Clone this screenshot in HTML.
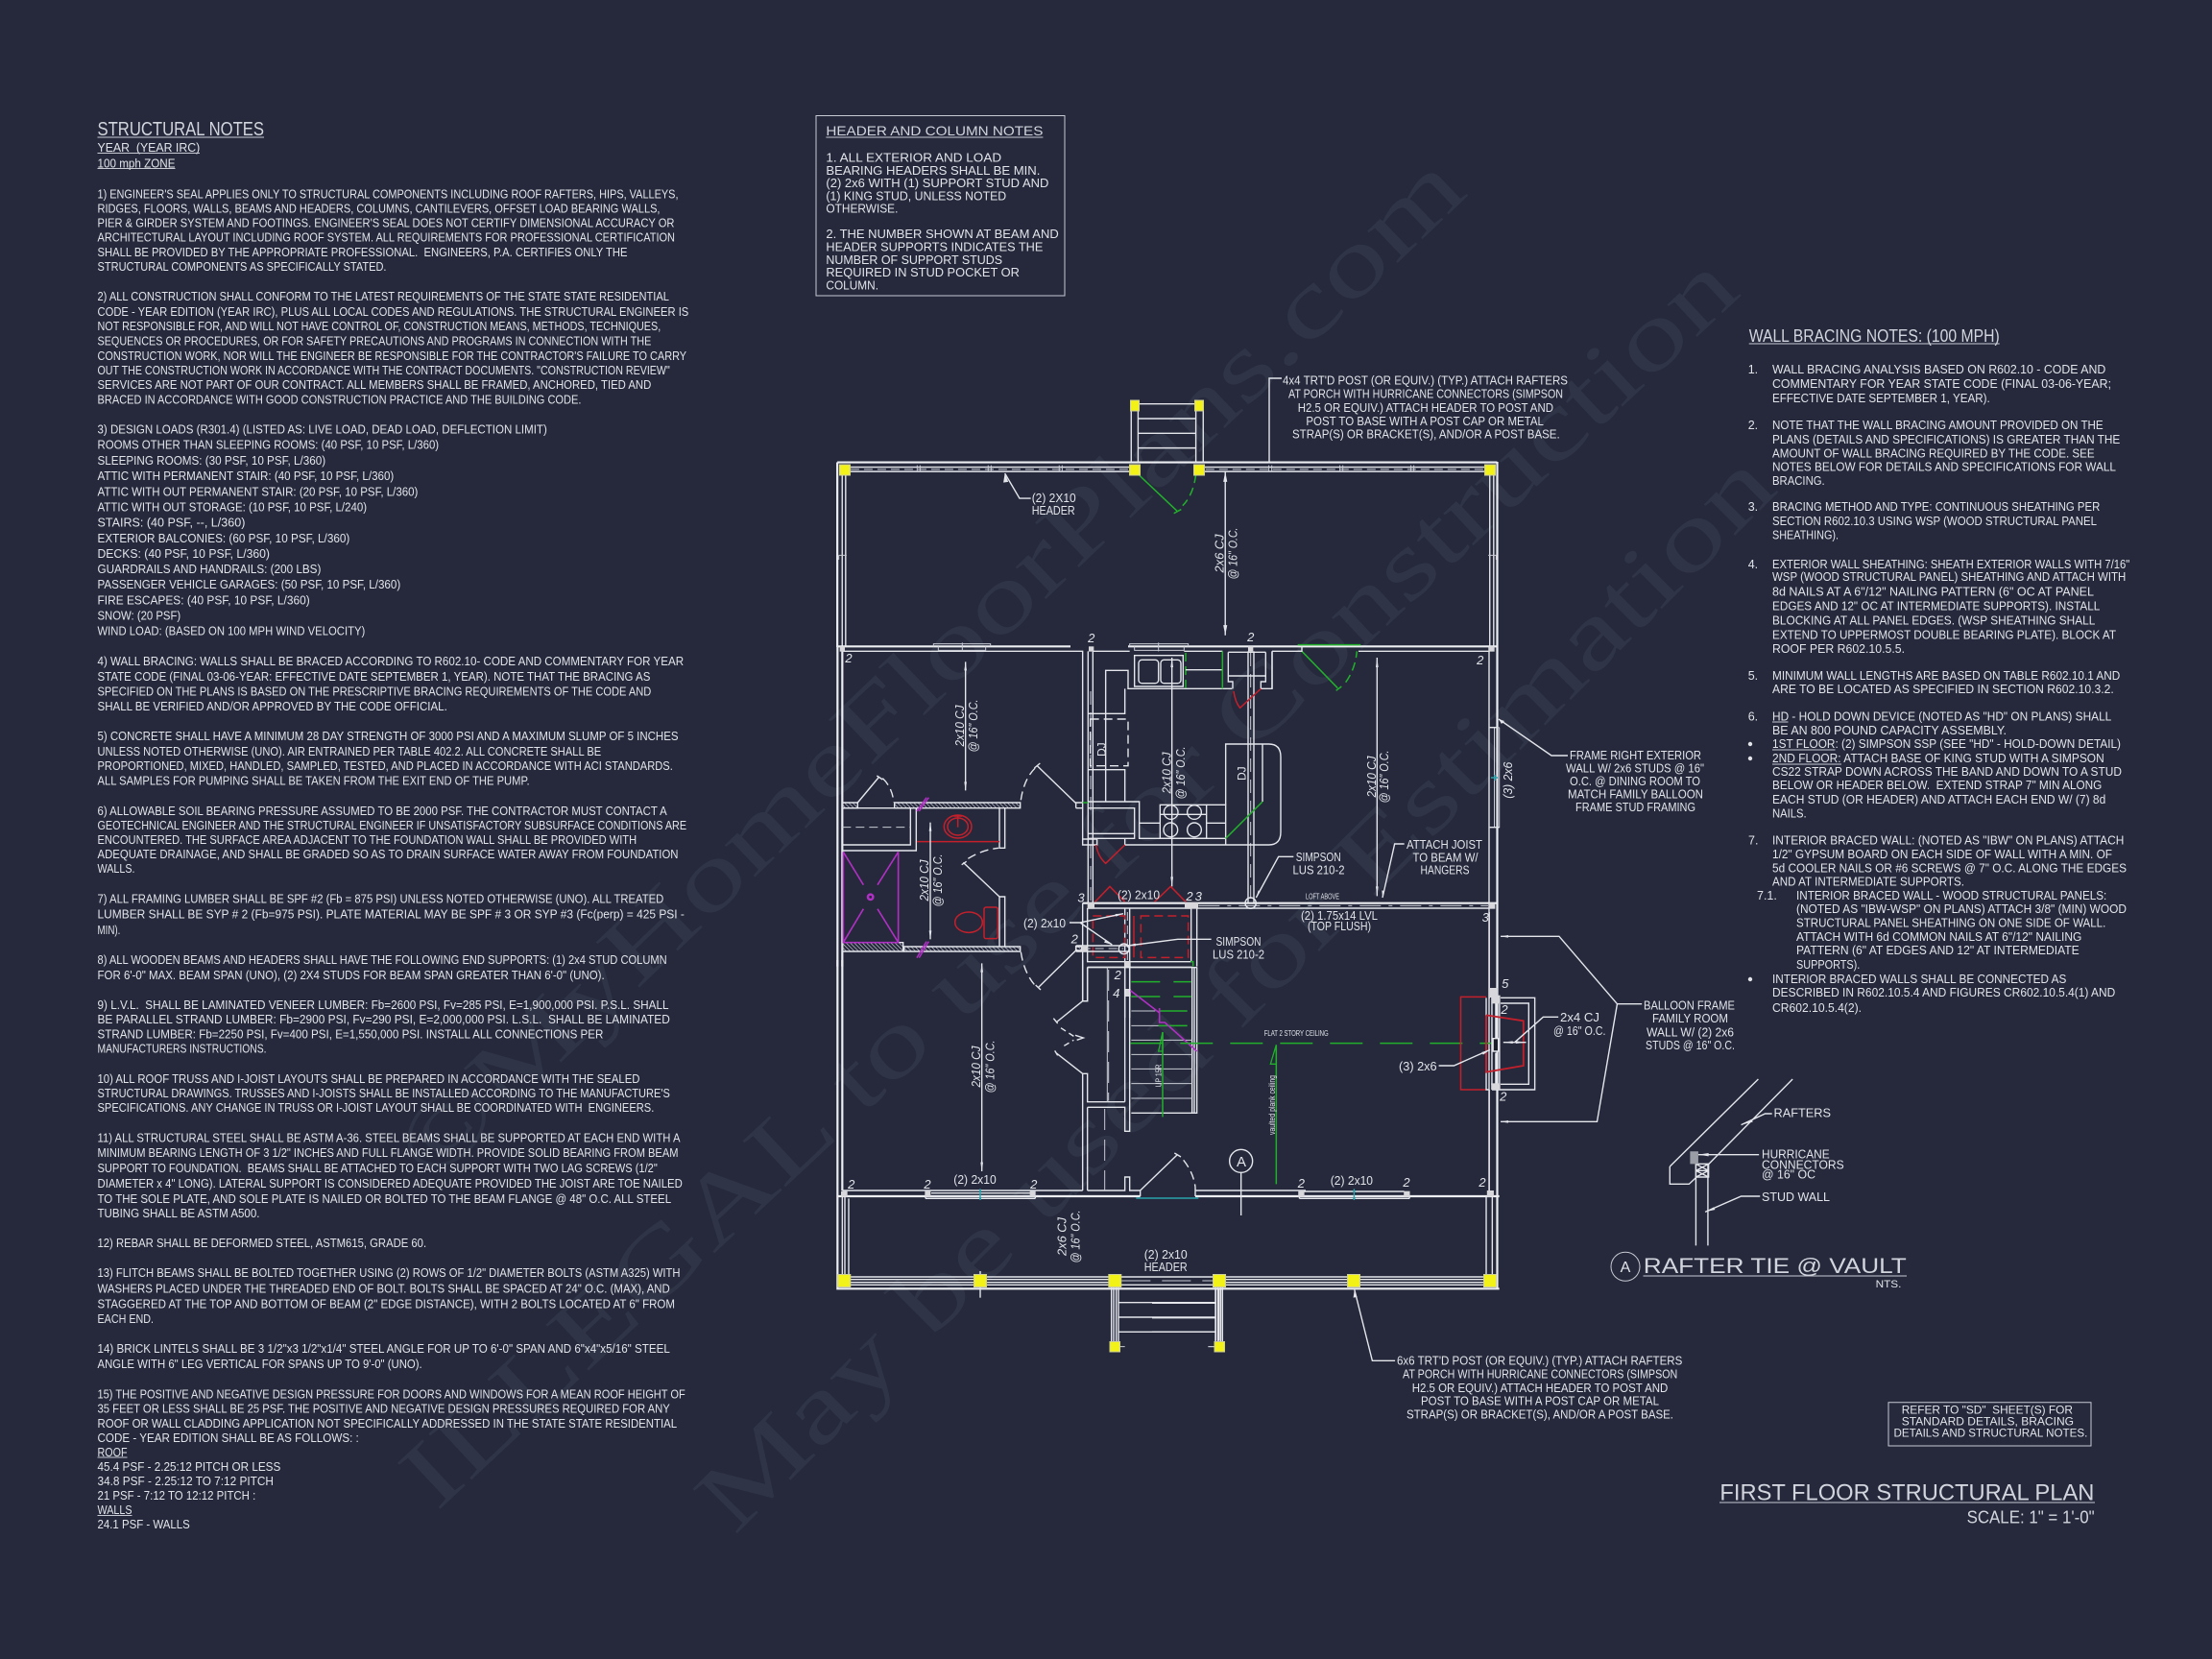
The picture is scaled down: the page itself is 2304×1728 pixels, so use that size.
<!DOCTYPE html>
<html><head><meta charset="utf-8"><title>First Floor Structural Plan</title>
<style>
html,body{margin:0;padding:0;background:#25293b}
svg{display:block}
text{font-family:"Liberation Sans",sans-serif;fill:#e2e4ea;font-size:12.5px;white-space:pre}
.wm{font-family:"Liberation Serif",serif;font-size:100px;fill:#2f3446}
.d{text-anchor:middle;font-size:13px;font-style:italic}
.s{font-size:13px}
.r{font-style:italic;font-size:13px;text-anchor:middle}
.big{fill:#d2d5dd}
line,path,polyline,rect,circle,ellipse,polygon{vector-effect:non-scaling-stroke}
.g path,.g line,.g rect,.g circle,.g ellipse,.g polyline{fill:none;stroke:#e4e6ec;stroke-width:1.4}
.g .k{stroke-width:2.2;stroke:#eceef2}
.g .t{stroke-width:1;stroke:#c8cad4}
.g .dd{stroke-dasharray:9 5}
.g .red{stroke:#c4202c;stroke-width:1.5}
.g .grn{stroke:#22b02c;stroke-width:1.5}
.g .mag{stroke:#b030c4;stroke-width:1.5}
.g .teal{stroke:#2aa4ac;stroke-width:1.4}
.g polygon{fill:#e4e6ec;stroke:none}
.g polygon.gr{fill:none;stroke:#22b02c;stroke-width:1.3}
.g .n{fill:#d8d8dc;stroke:none}
.y{fill:#f2f218;stroke:#cfcf9a;stroke-width:1}
</style></head><body>
<svg xmlns="http://www.w3.org/2000/svg" width="2304" height="1728" viewBox="0 0 2304 1728">
<defs><pattern id="h" patternUnits="userSpaceOnUse" width="9" height="9" patternTransform="rotate(-45)"><line x1="0" y1="0" x2="0" y2="9" stroke="#e4e6ec" stroke-width="3.4" style="vector-effect:none"/></pattern></defs>
<rect width="2304" height="1728" fill="#25293b"/>

<!-- watermarks -->
<text class="wm" transform="translate(450 1235) rotate(-43.7)" textLength="1495" lengthAdjust="spacingAndGlyphs">©MyHomeFloorPlans.com</text>
<text class="wm" transform="translate(455 1575) rotate(-43)" textLength="1860" lengthAdjust="spacingAndGlyphs">ILLEGAL to use for Construction</text>
<text class="wm" transform="translate(765 1600) rotate(-45)" textLength="1540" lengthAdjust="spacingAndGlyphs">May be used for Estimation</text>

<!-- STRUCTURAL NOTES -->
<g>
<text class="big" x="101.5" y="141" style="font-size:20px" textLength="173.5" lengthAdjust="spacingAndGlyphs">STRUCTURAL NOTES</text>
<text x="101.5" y="158.2" textLength="106.7" lengthAdjust="spacingAndGlyphs">YEAR  (YEAR IRC)</text>
<text x="101.5" y="174.3" textLength="81" lengthAdjust="spacingAndGlyphs">100 mph ZONE</text>
<text x="101.5" y="206.3" textLength="605" lengthAdjust="spacingAndGlyphs">1) ENGINEER'S SEAL APPLIES ONLY TO STRUCTURAL COMPONENTS INCLUDING ROOF RAFTERS, HIPS, VALLEYS,</text>
<text x="101.5" y="221.3" textLength="586" lengthAdjust="spacingAndGlyphs">RIDGES, FLOORS, WALLS, BEAMS AND HEADERS, COLUMNS, CANTILEVERS, OFFSET LOAD BEARING WALLS,</text>
<text x="101.5" y="236.6" textLength="601" lengthAdjust="spacingAndGlyphs">PIER &amp; GIRDER SYSTEM AND FOOTINGS. ENGINEER'S SEAL DOES NOT CERTIFY DIMENSIONAL ACCURACY OR</text>
<text x="101.5" y="251.6" textLength="601.5" lengthAdjust="spacingAndGlyphs">ARCHITECTURAL LAYOUT INCLUDING ROOF SYSTEM. ALL REQUIREMENTS FOR PROFESSIONAL CERTIFICATION</text>
<text x="101.5" y="267" textLength="552" lengthAdjust="spacingAndGlyphs">SHALL BE PROVIDED BY THE APPROPRIATE PROFESSIONAL.  ENGINEERS, P.A. CERTIFIES ONLY THE</text>
<text x="101.5" y="282" textLength="301" lengthAdjust="spacingAndGlyphs">STRUCTURAL COMPONENTS AS SPECIFICALLY STATED.</text>
<text x="101.5" y="313.1" textLength="595.4" lengthAdjust="spacingAndGlyphs">2) ALL CONSTRUCTION SHALL CONFORM TO THE LATEST REQUIREMENTS OF THE STATE STATE RESIDENTIAL</text>
<text x="101.5" y="329.1" textLength="615.8" lengthAdjust="spacingAndGlyphs">CODE - YEAR EDITION (YEAR IRC), PLUS ALL LOCAL CODES AND REGULATIONS. THE STRUCTURAL ENGINEER IS</text>
<text x="101.5" y="344.1" textLength="586.7" lengthAdjust="spacingAndGlyphs">NOT RESPONSIBLE FOR, AND WILL NOT HAVE CONTROL OF, CONSTRUCTION MEANS, METHODS, TECHNIQUES,</text>
<text x="101.5" y="359.5" textLength="576.8" lengthAdjust="spacingAndGlyphs">SEQUENCES OR PROCEDURES, OR FOR SAFETY PRECAUTIONS AND PROGRAMS IN CONNECTION WITH THE</text>
<text x="101.5" y="374.9" textLength="613.6" lengthAdjust="spacingAndGlyphs">CONSTRUCTION WORK, NOR WILL THE ENGINEER BE RESPONSIBLE FOR THE CONTRACTOR'S FAILURE TO CARRY</text>
<text x="101.5" y="390.2" textLength="596.3" lengthAdjust="spacingAndGlyphs">OUT THE CONSTRUCTION WORK IN ACCORDANCE WITH THE CONTRACT DOCUMENTS. "CONSTRUCTION REVIEW"</text>
<text x="101.5" y="405.2" textLength="576.8" lengthAdjust="spacingAndGlyphs">SERVICES ARE NOT PART OF OUR CONTRACT. ALL MEMBERS SHALL BE FRAMED, ANCHORED, TIED AND</text>
<text x="101.5" y="420.6" textLength="503.9" lengthAdjust="spacingAndGlyphs">BRACED IN ACCORDANCE WITH GOOD CONSTRUCTION PRACTICE AND THE BUILDING CODE.</text>
<text x="101.5" y="451.6" textLength="468.3" lengthAdjust="spacingAndGlyphs">3) DESIGN LOADS (R301.4) (LISTED AS: LIVE LOAD, DEAD LOAD, DEFLECTION LIMIT)</text>
<text x="101.5" y="467.7" textLength="355.6" lengthAdjust="spacingAndGlyphs">ROOMS OTHER THAN SLEEPING ROOMS: (40 PSF, 10 PSF, L/360)</text>
<text x="101.5" y="483.8" textLength="237.6" lengthAdjust="spacingAndGlyphs">SLEEPING ROOMS: (30 PSF, 10 PSF, L/360)</text>
<text x="101.5" y="499.9" textLength="308.8" lengthAdjust="spacingAndGlyphs">ATTIC WITH PERMANENT STAIR: (40 PSF, 10 PSF, L/360)</text>
<text x="101.5" y="516.3" textLength="333.9" lengthAdjust="spacingAndGlyphs">ATTIC WITH OUT PERMANENT STAIR: (20 PSF, 10 PSF, L/360)</text>
<text x="101.5" y="532.4" textLength="280.6" lengthAdjust="spacingAndGlyphs">ATTIC WITH OUT STORAGE: (10 PSF, 10 PSF, L/240)</text>
<text x="101.5" y="548.4" textLength="153.9" lengthAdjust="spacingAndGlyphs">STAIRS: (40 PSF, --, L/360)</text>
<text x="101.5" y="564.9" textLength="262.8" lengthAdjust="spacingAndGlyphs">EXTERIOR BALCONIES: (60 PSF, 10 PSF, L/360)</text>
<text x="101.5" y="581" textLength="179.5" lengthAdjust="spacingAndGlyphs">DECKS: (40 PSF, 10 PSF, L/360)</text>
<text x="101.5" y="597" textLength="232.9" lengthAdjust="spacingAndGlyphs">GUARDRAILS AND HANDRAILS: (200 LBS)</text>
<text x="101.5" y="613.1" textLength="315.7" lengthAdjust="spacingAndGlyphs">PASSENGER VEHICLE GARAGES: (50 PSF, 10 PSF, L/360)</text>
<text x="101.5" y="629.5" textLength="221.2" lengthAdjust="spacingAndGlyphs">FIRE ESCAPES: (40 PSF, 10 PSF, L/360)</text>
<text x="101.5" y="645.6" textLength="86.7" lengthAdjust="spacingAndGlyphs">SNOW: (20 PSF)</text>
<text x="101.5" y="661.6" textLength="278.8" lengthAdjust="spacingAndGlyphs">WIND LOAD: (BASED ON 100 MPH WIND VELOCITY)</text>
<text x="101.5" y="693.2" textLength="610.6" lengthAdjust="spacingAndGlyphs">4) WALL BRACING: WALLS SHALL BE BRACED ACCORDING TO R602.10- CODE AND COMMENTARY FOR YEAR</text>
<text x="101.5" y="709.2" textLength="575.9" lengthAdjust="spacingAndGlyphs">STATE CODE (FINAL 03-06-YEAR: EFFECTIVE DATE SEPTEMBER 1, YEAR). NOTE THAT THE BRACING AS</text>
<text x="101.5" y="724.5" textLength="576.8" lengthAdjust="spacingAndGlyphs">SPECIFIED ON THE PLANS IS BASED ON THE PRESCRIPTIVE BRACING REQUIREMENTS OF THE CODE AND</text>
<text x="101.5" y="739.8" textLength="364.3" lengthAdjust="spacingAndGlyphs">SHALL BE VERIFIED AND/OR APPROVED BY THE CODE OFFICIAL.</text>
<text x="101.5" y="771.2" textLength="605" lengthAdjust="spacingAndGlyphs">5) CONCRETE SHALL HAVE A MINIMUM 28 DAY STRENGTH OF 3000 PSI AND A MAXIMUM SLUMP OF 5 INCHES</text>
<text x="101.5" y="787.2" textLength="524.7" lengthAdjust="spacingAndGlyphs">UNLESS NOTED OTHERWISE (UNO). AIR ENTRAINED PER TABLE 402.2. ALL CONCRETE SHALL BE</text>
<text x="101.5" y="802.2" textLength="599.3" lengthAdjust="spacingAndGlyphs">PROPORTIONED, MIXED, HANDLED, SAMPLED, TESTED, AND PLACED IN ACCORDANCE WITH ACI STANDARDS.</text>
<text x="101.5" y="817.5" textLength="450.1" lengthAdjust="spacingAndGlyphs">ALL SAMPLES FOR PUMPING SHALL BE TAKEN FROM THE EXIT END OF THE PUMP.</text>
<text x="101.5" y="848.8" textLength="593.2" lengthAdjust="spacingAndGlyphs">6) ALLOWABLE SOIL BEARING PRESSURE ASSUMED TO BE 2000 PSF. THE CONTRACTOR MUST CONTACT A</text>
<text x="101.5" y="863.8" textLength="613.6" lengthAdjust="spacingAndGlyphs">GEOTECHNICAL ENGINEER AND THE STRUCTURAL ENGINEER IF UNSATISFACTORY SUBSURFACE CONDITIONS ARE</text>
<text x="101.5" y="878.8" textLength="561.6" lengthAdjust="spacingAndGlyphs">ENCOUNTERED. THE SURFACE AREA ADJACENT TO THE FOUNDATION WALL SHALL BE PROVIDED WITH</text>
<text x="101.5" y="893.8" textLength="605" lengthAdjust="spacingAndGlyphs">ADEQUATE DRAINAGE, AND SHALL BE GRADED SO AS TO DRAIN SURFACE WATER AWAY FROM FOUNDATION</text>
<text x="101.5" y="909.2" textLength="39" lengthAdjust="spacingAndGlyphs">WALLS.</text>
<text x="101.5" y="940.5" textLength="589.8" lengthAdjust="spacingAndGlyphs">7) ALL FRAMING LUMBER SHALL BE SPF #2 (Fb = 875 PSI) UNLESS NOTED OTHERWISE (UNO). ALL TREATED</text>
<text x="101.5" y="956.5" textLength="611.4" lengthAdjust="spacingAndGlyphs">LUMBER SHALL BE SYP # 2 (Fb=975 PSI). PLATE MATERIAL MAY BE SPF # 3 OR SYP #3 (Fc(perp) = 425 PSI -</text>
<text x="101.5" y="972.8" textLength="23.9" lengthAdjust="spacingAndGlyphs">MIN).</text>
<text x="101.5" y="1003.8" textLength="593.2" lengthAdjust="spacingAndGlyphs">8) ALL WOODEN BEAMS AND HEADERS SHALL HAVE THE FOLLOWING END SUPPORTS: (1) 2x4 STUD COLUMN</text>
<text x="101.5" y="1019.8" textLength="528.2" lengthAdjust="spacingAndGlyphs">FOR 6'-0" MAX. BEAM SPAN (UNO), (2) 2X4 STUDS FOR BEAM SPAN GREATER THAN 6'-0" (UNO).</text>
<text x="101.5" y="1051.2" textLength="595" lengthAdjust="spacingAndGlyphs">9) L.V.L.  SHALL BE LAMINATED VENEER LUMBER: Fb=2600 PSI, Fv=285 PSI, E=1,900,000 PSI. P.S.L. SHALL</text>
<text x="101.5" y="1066.2" textLength="596.3" lengthAdjust="spacingAndGlyphs">BE PARALLEL STRAND LUMBER: Fb=2900 PSI, Fv=290 PSI, E=2,000,000 PSI. L.S.L.  SHALL BE LAMINATED</text>
<text x="101.5" y="1081.5" textLength="526.9" lengthAdjust="spacingAndGlyphs">STRAND LUMBER: Fb=2250 PSI, Fv=400 PSI, E=1,550,000 PSI. INSTALL ALL CONNECTIONS PER</text>
<text x="101.5" y="1096.5" textLength="176" lengthAdjust="spacingAndGlyphs">MANUFACTURERS INSTRUCTIONS.</text>
<text x="101.5" y="1127.8" textLength="565" lengthAdjust="spacingAndGlyphs">10) ALL ROOF TRUSS AND I-JOIST LAYOUTS SHALL BE PREPARED IN ACCORDANCE WITH THE SEALED</text>
<text x="101.5" y="1143.2" textLength="596.3" lengthAdjust="spacingAndGlyphs">STRUCTURAL DRAWINGS. TRUSSES AND I-JOISTS SHALL BE INSTALLED ACCORDING TO THE MANUFACTURE'S</text>
<text x="101.5" y="1158.2" textLength="579.8" lengthAdjust="spacingAndGlyphs">SPECIFICATIONS. ANY CHANGE IN TRUSS OR I-JOIST LAYOUT SHALL BE COORDINATED WITH  ENGINEERS.</text>
<text x="101.5" y="1189.5" textLength="607" lengthAdjust="spacingAndGlyphs">11) ALL STRUCTURAL STEEL SHALL BE ASTM A-36. STEEL BEAMS SHALL BE SUPPORTED AT EACH END WITH A</text>
<text x="101.5" y="1204.8" textLength="605" lengthAdjust="spacingAndGlyphs">MINIMUM BEARING LENGTH OF 3 1/2" INCHES AND FULL FLANGE WIDTH. PROVIDE SOLID BEARING FROM BEAM</text>
<text x="101.5" y="1221.2" textLength="583.3" lengthAdjust="spacingAndGlyphs">SUPPORT TO FOUNDATION.  BEAMS SHALL BE ATTACHED TO EACH SUPPORT WITH TWO LAG SCREWS (1/2"</text>
<text x="101.5" y="1237.2" textLength="609.3" lengthAdjust="spacingAndGlyphs">DIAMETER x 4" LONG). LATERAL SUPPORT IS CONSIDERED ADEQUATE PROVIDED THE JOIST ARE TOE NAILED</text>
<text x="101.5" y="1252.8" textLength="597.6" lengthAdjust="spacingAndGlyphs">TO THE SOLE PLATE, AND SOLE PLATE IS NAILED OR BOLTED TO THE BEAM FLANGE @ 48" O.C. ALL STEEL</text>
<text x="101.5" y="1267.8" textLength="169" lengthAdjust="spacingAndGlyphs">TUBING SHALL BE ASTM A500.</text>
<text x="101.5" y="1299.2" textLength="342.6" lengthAdjust="spacingAndGlyphs">12) REBAR SHALL BE DEFORMED STEEL, ASTM615, GRADE 60.</text>
<text x="101.5" y="1330.2" textLength="607" lengthAdjust="spacingAndGlyphs">13) FLITCH BEAMS SHALL BE BOLTED TOGETHER USING (2) ROWS OF 1/2" DIAMETER BOLTS (ASTM A325) WITH</text>
<text x="101.5" y="1346.5" textLength="596.3" lengthAdjust="spacingAndGlyphs">WASHERS PLACED UNDER THE THREADED END OF BOLT. BOLTS SHALL BE SPACED AT 24" O.C. (MAX), AND</text>
<text x="101.5" y="1362.5" textLength="601.5" lengthAdjust="spacingAndGlyphs">STAGGERED AT THE TOP AND BOTTOM OF BEAM (2" EDGE DISTANCE), WITH 2 BOLTS LOCATED AT 6" FROM</text>
<text x="101.5" y="1377.8" textLength="58.5" lengthAdjust="spacingAndGlyphs">EACH END.</text>
<text x="101.5" y="1409.2" textLength="596.3" lengthAdjust="spacingAndGlyphs">14) BRICK LINTELS SHALL BE 3 1/2"x3 1/2"x1/4" STEEL ANGLE FOR UP TO 6'-0" SPAN AND 6"x4"x5/16" STEEL</text>
<text x="101.5" y="1424.8" textLength="338.2" lengthAdjust="spacingAndGlyphs">ANGLE WITH 6" LEG VERTICAL FOR SPANS UP TO 9'-0" (UNO).</text>
<text x="101.5" y="1456.5" textLength="612.3" lengthAdjust="spacingAndGlyphs">15) THE POSITIVE AND NEGATIVE DESIGN PRESSURE FOR DOORS AND WINDOWS FOR A MEAN ROOF HEIGHT OF</text>
<text x="101.5" y="1471.5" textLength="596.3" lengthAdjust="spacingAndGlyphs">35 FEET OR LESS SHALL BE 25 PSF. THE POSITIVE AND NEGATIVE DESIGN PRESSURES REQUIRED FOR ANY</text>
<text x="101.5" y="1486.8" textLength="603.6" lengthAdjust="spacingAndGlyphs">ROOF OR WALL CLADDING APPLICATION NOT SPECIFICALLY ADDRESSED IN THE STATE STATE RESIDENTIAL</text>
<text x="101.5" y="1501.8" textLength="272.3" lengthAdjust="spacingAndGlyphs">CODE - YEAR EDITION SHALL BE AS FOLLOWS: :</text>
<text x="101.5" y="1516.8" textLength="31" lengthAdjust="spacingAndGlyphs">ROOF</text>
<text x="101.5" y="1531.8" textLength="190.8" lengthAdjust="spacingAndGlyphs">45.4 PSF - 2.25:12 PITCH OR LESS</text>
<text x="101.5" y="1546.8" textLength="183.4" lengthAdjust="spacingAndGlyphs">34.8 PSF - 2.25:12 TO 7:12 PITCH</text>
<text x="101.5" y="1561.8" textLength="164.8" lengthAdjust="spacingAndGlyphs">21 PSF - 7:12 TO 12:12 PITCH :</text>
<text x="101.5" y="1577.2" textLength="36" lengthAdjust="spacingAndGlyphs">WALLS</text>
<text x="101.5" y="1592.2" textLength="96.3" lengthAdjust="spacingAndGlyphs">24.1 PSF - WALLS</text>
</g>

<!-- HEADER NOTES -->
<g>
<text class="big" x="860.4" y="141" style="font-size:14px" textLength="226" lengthAdjust="spacingAndGlyphs">HEADER AND COLUMN NOTES</text>
<text x="860.4" y="168.4" textLength="182.7" lengthAdjust="spacingAndGlyphs">1. ALL EXTERIOR AND LOAD</text>
<text x="860.4" y="181.8" textLength="223" lengthAdjust="spacingAndGlyphs">BEARING HEADERS SHALL BE MIN.</text>
<text x="860.4" y="195.2" textLength="232" lengthAdjust="spacingAndGlyphs">(2) 2x6 WITH (1) SUPPORT STUD AND</text>
<text x="860.4" y="208.6" textLength="187.8" lengthAdjust="spacingAndGlyphs">(1) KING STUD, UNLESS NOTED</text>
<text x="860.4" y="221.6" textLength="75" lengthAdjust="spacingAndGlyphs">OTHERWISE.</text>
<text x="860.4" y="248" textLength="242.3" lengthAdjust="spacingAndGlyphs">2. THE NUMBER SHOWN AT BEAM AND</text>
<text x="860.4" y="261.4" textLength="226" lengthAdjust="spacingAndGlyphs">HEADER SUPPORTS INDICATES THE</text>
<text x="860.4" y="274.8" textLength="183.7" lengthAdjust="spacingAndGlyphs">NUMBER OF SUPPORT STUDS</text>
<text x="860.4" y="288.2" textLength="201.5" lengthAdjust="spacingAndGlyphs">REQUIRED IN STUD POCKET OR</text>
<text x="860.4" y="301.6" textLength="54.6" lengthAdjust="spacingAndGlyphs">COLUMN.</text>
</g>

<!-- WALL BRACING NOTES -->
<g>
<text class="big" x="1821.7" y="356" style="font-size:18px" textLength="261" lengthAdjust="spacingAndGlyphs">WALL BRACING NOTES: (100 MPH)</text>
<g class="nums">
<text x="1820.7" y="389.1">1.</text><text x="1820.7" y="447.1">2.</text><text x="1820.7" y="532.1">3.</text><text x="1820.7" y="591.8">4.</text><text x="1820.7" y="708.1">5.</text><text x="1820.7" y="750.5">6.</text><text x="1821" y="879.5">7.</text><text x="1830" y="936.8">7.1.</text>
</g>
<text x="1846" y="389.1" textLength="347.3" lengthAdjust="spacingAndGlyphs">WALL BRACING ANALYSIS BASED ON R602.10 - CODE AND</text>
<text x="1846" y="403.8" textLength="353" lengthAdjust="spacingAndGlyphs">COMMENTARY FOR YEAR STATE CODE (FINAL 03-06-YEAR;</text>
<text x="1846" y="418.8" textLength="226.7" lengthAdjust="spacingAndGlyphs">EFFECTIVE DATE SEPTEMBER 1, YEAR).</text>
<text x="1846" y="447.1" textLength="344.7" lengthAdjust="spacingAndGlyphs">NOTE THAT THE WALL BRACING AMOUNT PROVIDED ON THE</text>
<text x="1846" y="461.8" textLength="362.3" lengthAdjust="spacingAndGlyphs">PLANS (DETAILS AND SPECIFICATIONS) IS GREATER THAN THE</text>
<text x="1846" y="476.5" textLength="335.7" lengthAdjust="spacingAndGlyphs">AMOUNT OF WALL BRACING REQUIRED BY THE CODE. SEE</text>
<text x="1846" y="490.5" textLength="358" lengthAdjust="spacingAndGlyphs">NOTES BELOW FOR DETAILS AND SPECIFICATIONS FOR WALL</text>
<text x="1846" y="504.8" textLength="54.7" lengthAdjust="spacingAndGlyphs">BRACING.</text>
<text x="1846" y="532.1" textLength="341.3" lengthAdjust="spacingAndGlyphs">BRACING METHOD AND TYPE: CONTINUOUS SHEATHING PER</text>
<text x="1846" y="546.8" textLength="338" lengthAdjust="spacingAndGlyphs">SECTION R602.10.3 USING WSP (WOOD STRUCTURAL PANEL</text>
<text x="1846" y="561.5" textLength="69" lengthAdjust="spacingAndGlyphs">SHEATHING).</text>
<text x="1846" y="591.8" textLength="372.3" lengthAdjust="spacingAndGlyphs">EXTERIOR WALL SHEATHING: SHEATH EXTERIOR WALLS WITH 7/16"</text>
<text x="1846" y="605.1" textLength="368.3" lengthAdjust="spacingAndGlyphs">WSP (WOOD STRUCTURAL PANEL) SHEATHING AND ATTACH WITH</text>
<text x="1846" y="620.5" textLength="335" lengthAdjust="spacingAndGlyphs">8d NAILS AT A 6"/12" NAILING PATTERN (6" OC AT PANEL</text>
<text x="1846" y="635.5" textLength="341.3" lengthAdjust="spacingAndGlyphs">EDGES AND 12" OC AT INTERMEDIATE SUPPORTS). INSTALL</text>
<text x="1846" y="650.5" textLength="336.3" lengthAdjust="spacingAndGlyphs">BLOCKING AT ALL PANEL EDGES. (WSP SHEATHING SHALL</text>
<text x="1846" y="665.5" textLength="358" lengthAdjust="spacingAndGlyphs">EXTEND TO UPPERMOST DOUBLE BEARING PLATE). BLOCK AT</text>
<text x="1846" y="680.1" textLength="138" lengthAdjust="spacingAndGlyphs">ROOF PER R602.10.5.5.</text>
<text x="1846" y="708.1" textLength="362.3" lengthAdjust="spacingAndGlyphs">MINIMUM WALL LENGTHS ARE BASED ON TABLE R602.10.1 AND</text>
<text x="1846" y="722.1" textLength="355.7" lengthAdjust="spacingAndGlyphs">ARE TO BE LOCATED AS SPECIFIED IN SECTION R602.10.3.2.</text>
<text x="1846" y="750.5" textLength="353.3" lengthAdjust="spacingAndGlyphs">HD - HOLD DOWN DEVICE (NOTED AS "HD" ON PLANS) SHALL</text>
<text x="1846" y="764.8" textLength="244" lengthAdjust="spacingAndGlyphs">BE AN 800 POUND CAPACITY ASSEMBLY.</text>
<text x="1846" y="779.1" textLength="363" lengthAdjust="spacingAndGlyphs">1ST FLOOR: (2) SIMPSON SSP (SEE "HD" - HOLD-DOWN DETAIL)</text>
<text x="1846" y="794.1" textLength="345.7" lengthAdjust="spacingAndGlyphs">2ND FLOOR: ATTACH BASE OF KING STUD WITH A SIMPSON</text>
<text x="1846" y="808.1" textLength="364" lengthAdjust="spacingAndGlyphs">CS22 STRAP DOWN ACROSS THE BAND AND DOWN TO A STUD</text>
<text x="1846" y="822.1" textLength="343.3" lengthAdjust="spacingAndGlyphs">BELOW OR HEADER BELOW.  EXTEND STRAP 7" MIN ALONG</text>
<text x="1846" y="837.1" textLength="347.3" lengthAdjust="spacingAndGlyphs">EACH STUD (OR HEADER) AND ATTACH EACH END W/ (7) 8d</text>
<text x="1846" y="851.5" textLength="35.7" lengthAdjust="spacingAndGlyphs">NAILS.</text>
<text x="1846" y="879.5" textLength="366.3" lengthAdjust="spacingAndGlyphs">INTERIOR BRACED WALL: (NOTED AS "IBW" ON PLANS) ATTACH</text>
<text x="1846" y="894.1" textLength="354" lengthAdjust="spacingAndGlyphs">1/2" GYPSUM BOARD ON EACH SIDE OF WALL WITH A MIN. OF</text>
<text x="1846" y="908.5" textLength="369" lengthAdjust="spacingAndGlyphs">5d COOLER NAILS OR #6 SCREWS @ 7" O.C. ALONG THE EDGES</text>
<text x="1846" y="922.5" textLength="200" lengthAdjust="spacingAndGlyphs">AND AT INTERMEDIATE SUPPORTS.</text>
<text x="1871" y="936.8" textLength="323.3" lengthAdjust="spacingAndGlyphs">INTERIOR BRACED WALL - WOOD STRUCTURAL PANELS:</text>
<text x="1871" y="951.1" textLength="344" lengthAdjust="spacingAndGlyphs">(NOTED AS "IBW-WSP" ON PLANS) ATTACH 3/8" (MIN) WOOD</text>
<text x="1871" y="965.5" textLength="322.3" lengthAdjust="spacingAndGlyphs">STRUCTURAL PANEL SHEATHING ON ONE SIDE OF WALL.</text>
<text x="1871" y="979.8" textLength="297.3" lengthAdjust="spacingAndGlyphs">ATTACH WITH 6d COMMON NAILS AT 6"/12" NAILING</text>
<text x="1871" y="994.1" textLength="294.7" lengthAdjust="spacingAndGlyphs">PATTERN (6" AT EDGES AND 12" AT INTERMEDIATE</text>
<text x="1871" y="1009.1" textLength="66.3" lengthAdjust="spacingAndGlyphs">SUPPORTS).</text>
<text x="1846" y="1024.1" textLength="306.3" lengthAdjust="spacingAndGlyphs">INTERIOR BRACED WALLS SHALL BE CONNECTED AS</text>
<text x="1846" y="1038.1" textLength="357.3" lengthAdjust="spacingAndGlyphs">DESCRIBED IN R602.10.5.4 AND FIGURES CR602.10.5.4(1) AND</text>
<text x="1846" y="1053.8" textLength="93" lengthAdjust="spacingAndGlyphs">CR602.10.5.4(2).</text>
<circle cx="1823" cy="775" r="2.2" fill="#e2e4ea"/><circle cx="1823" cy="790" r="2.2" fill="#e2e4ea"/><circle cx="1823" cy="1020" r="2.2" fill="#e2e4ea"/>
</g>

<!-- absolute line work -->
<g class="g">
<path class="t" d="M101.5,143H275M101.5,159.5H208M101.5,175.5H182.5M101.5,1518H132.5M101.5,1578.5H137.5"/>
<rect x="850" y="120.5" width="259" height="187.5" class="t"/>
<path class="t" d="M860.4,143H1086.4M1821.7,358H2082.7M1846,752H1862.5M1846,781H1911.5M1846,796H1918"/>
<rect x="1967" y="1460.7" width="211" height="45.3" class="t"/>
<path class="t" d="M1711.5,1329H1986M1791,1565H2182"/>
<circle cx="1693" cy="1319.3" r="15" class="t"/>
<path d="M1322,480.8V394H1335"/>
<path class="k" d="M1559.5,481V1342"/>
<path d="M1551,673V1246"/>
<path class="t" d="M1561.7,757.7V861.7H1551M1561.7,757.7H1551M1556.5,757.7V861.7"/>
<path class="teal" d="M1553,810H1560M1557,807V813"/>
<path d="M1561,749L1616,787H1633"/>
<polygon points="1561,749 1567,751 1564,754"/>
</g>

<!-- zoom 4 group : top porch -->
<g class="g" transform="translate(840 100) scale(.5102 .3827)">
<path class="k" d="M63,997H1410"/>
<path class="k" d="M63,997V1500"/>
<path d="M73,1010V1497M80,1022V1497M1395,1022V1497M1403,1010V1497"/>
<path d="M73,1010H663M810,1010H1403M80,1022H663M810,1022H1395"/>
<path class="dd t" d="M90,1016H660M815,1016H1390"/>
<path class="t" d="M232,1005V1024M226,1005V1024M377,1005V1024M371,1005V1024M522,1005V1024M516,1005V1024M950,1005V1024M944,1005V1024M1095,1005V1024M1089,1005V1024M1240,1005V1024M1234,1005V1024"/>
<path d="M663,838H810M663,838V997M677,838V997M795,838V997M810,838V997M677,878H795M677,918H795M677,958H795"/>
<path d="M405,1027L435,1095H458"/><polygon points="405,1027 412,1050 402,1052"/>
<path d="M855,1022V1468"/><polygon points="855,1022 851,1050 859,1050"/><polygon points="855,1468 851,1440 859,1440"/>
<path class="grn" d="M680,1033L757,1130M750,1136L765,1125"/>
<path class="grn dd" d="M795,1030Q790,1085 768,1115"/>
<path class="t" d="M66,1250H82M1392,1250H1408M66,1250V1262M1408,1250V1262"/>
</g>

<!-- zoom 5 group : main plan upper -->
<g class="g" transform="translate(860 660) scale(.33333)">
<path class="k" d="M37,40H765M945,40H2100"/>
<path d="M52,55H803V642M835,55H950M1120,55H1240M1258,58H1375M1395,55H1485M1665,55H2075"/>
<path class="k" d="M37,40V1040M52,55V1040"/>
<!-- windows -->
<path class="t" d="M337,40V32H515V40M352,40V52H500V40M427,28V55M950,40V32H1133V40M965,40V52H1120V40M1040,28V55"/>
<!-- interior double wall -->
<path d="M820,55V842M835,55V842M1320,55V842M1338,55V842"/>
<path class="dd t" d="M828,180V560M828,660V842M1328,60V840" style="stroke-dasharray:14 8"/>
<!-- hatched walls -->
<rect x="52" y="528" width="48" height="17" fill="url(#h)" style="fill:url(#h)"/>
<rect x="215" y="528" width="393" height="17" style="fill:url(#h)"/>
<rect x="52" y="965" width="190" height="28" style="fill:url(#h)"/>
<rect x="245" y="978" width="363" height="15" style="fill:url(#h)"/>
<!-- closet -->
<path d="M52,545H265V660H52M283,545V678H52M265,545H283"/>
<path class="t dd" d="M52,605H265"/>
<path d="M100,528L165,450M160,444L178,456"/><path class="dd" d="M178,452Q208,480 213,528"/>
<!-- bath -->
<path d="M543,545V670H560V545M543,822H560V978M543,822V978"/>
<path d="M430,715L543,822M425,722L440,712"/>
<path class="dd" d="M445,703Q490,675 540,670"/>
<path class="red" d="M285,650H543"/>
<ellipse cx="413" cy="603" rx="43" ry="36" class="red"/><ellipse cx="413" cy="603" rx="32" ry="27" class="red"/>
<path class="red" d="M413,570V605M400,570H426"/>
<rect x="495" y="855" width="43" height="98" rx="6" class="red"/>
<ellipse cx="447" cy="902" rx="43" ry="32" class="red"/>
<path class="mag" style="stroke-width:1.6" d="M55,682V965H227V682M55,682L118,785M227,682L162,785M55,965L118,860M227,965L162,860"/>
<circle cx="140" cy="823" r="8" class="mag" style="stroke-width:2.5"/>
<path class="mag" d="M285,555L315,512M292,555L322,512M285,1013L315,962M292,1013L322,962"/>
<!-- arrows -->
<path d="M437,88V490"/><polygon points="437,88 433,115 441,115"/><polygon points="437,490 433,463 441,463"/>
<path d="M327,590V955"/><polygon points="327,590 323,617 331,617"/><polygon points="327,955 323,928 331,928"/>
<path d="M1082,75V790"/><polygon points="1082,75 1078,105 1086,105"/><polygon points="1082,790 1078,760 1086,760"/>
<path d="M1723,75V820"/><polygon points="1723,75 1719,105 1727,105"/><polygon points="1723,820 1719,790 1727,790"/>
<!-- hall doors -->
<path d="M660,412L782,530M652,420L670,405"/><path class="dd" d="M610,520Q620,450 660,415"/>
<path d="M665,1105L782,990M656,1098L672,1113"/><path class="dd" d="M610,995Q620,1060 655,1100"/>
<path d="M782,545V528H803M782,545H803"/>
<path class="grn" d="M803,528H820"/>
<path d="M803,642V660H848V642H803M820,642H848"/>
<!-- kitchen -->
<path d="M875,525V115H945V172H1270M820,250H935V172M820,425H935V525M820,525H980V640H1250M875,425V525"/>
<rect x="965" y="68" width="152" height="97"/>
<rect x="978" y="82" width="62" height="73" rx="10"/><rect x="1047" y="82" width="63" height="73" rx="10"/>
<path class="grn dd" d="M1125,60V170"/><path d="M1125,113H1240"/><path class="grn" d="M1240,55V172"/>
<path d="M1258,58V132H1375V58M1258,132V150H1272V172M1375,132V150H1360V172H1395V55"/>
<path class="red" d="M1275,180Q1280,215 1295,232L1360,172"/>
<rect x="827" y="267" width="118" height="146" class="dd"/>
<path d="M1250,535V345H1385Q1422,345 1422,385V620Q1422,660 1385,660H935V640"/>
<path d="M1190,535H1250V660M1365,345V525"/>
<path class="grn" d="M1250,640L1365,525"/>
<rect x="1045" y="535" width="145" height="105"/><path d="M1045,565H1190M980,592H1045M1190,592H1250"/>
<circle cx="1079" cy="558" r="22"/><circle cx="1152" cy="558" r="22"/><circle cx="1078" cy="613" r="22"/><circle cx="1152" cy="613" r="22"/>
<path d="M820,545H965V640H820M820,625H965M935,640H965"/>
<path class="red" d="M845,660Q850,695 875,718L935,660"/>
<!-- loft beam -->
<path class="k" d="M803,842H2100"/>
<path d="M1160,858H2075"/>
<path class="dd t" d="M1165,850H2070" style="stroke-dasharray:22 8 4 8"/>
<circle cx="1328" cy="842" r="17"/>
<path d="M1345,825L1415,697H1462"/><polygon points="1345,825 1352,802 1358,806"/>
<path d="M1740,825L1778,657H1808"/><polygon points="1740,825 1738,802 1746,804"/>
<path class="red" d="M842,838L888,790L935,838M1028,838L1078,790L1125,838"/>
<!-- stair box -->
<path d="M803,842V975M818,858H1142V1025H818V858M1142,858V1025M1160,842V1040"/>
<path d="M818,1043H1160M803,993V1148H818V1043M935,858V1200M950,858V1200"/>
<path class="dd t" d="M943,870V1020"/>
<rect x="835" y="882" width="100" height="130" class="red dd"/>
<rect x="985" y="882" width="148" height="130" class="red dd"/>
<path class="red" d="M963,882V1012"/>
<path d="M782,975H948M782,993H948M782,975V993"/>
<rect x="782" y="978" width="18" height="12" style="fill:url(#h)"/>
<path class="t dd" d="M800,984H930"/>
<circle cx="932" cy="985" r="16"/>
<path d="M762,903H795L930,875M795,903L895,972M945,975L1100,955H1205"/>
<polygon points="930,875 905,876 907,884"/><polygon points="895,972 874,958 870,965"/><polygon points="945,975 968,968 969,976"/>
<!-- right window -->
<path d="M2075,293H2100M2075,605H2105"/>
<!-- family room door -->
<path class="grn" d="M1475,35H1672M1488,55L1600,170M1595,178L1612,165"/>
<path class="grn dd" d="M1625,152Q1655,110 1660,55"/>
<path d="M1395,55V172M1488,40V55H1475"/>
<!-- nodes -->
<rect class="n" x="818" y="840" width="22" height="20"/><rect class="n" x="1122" y="840" width="42" height="20"/>
<rect class="n" x="933" y="1024" width="20" height="18"/><rect class="n" x="933" y="1110" width="20" height="24"/>
<rect class="n" x="822" y="40" width="16" height="16"/><rect class="n" x="1320" y="40" width="16" height="16"/>
<rect class="n" x="44" y="40" width="16" height="16"/><rect class="n" x="2072" y="40" width="18" height="16"/>
<rect class="n" x="2072" y="842" width="20" height="18"/>
<rect class="n" x="800" y="977" width="16" height="16"/>
<path class="grn" d="M1140,1025H1148V1040"/>
</g>

<!-- zoom 7 group : plan lower -->
<g class="g" transform="translate(860 1000) scale(.33333)">
<path class="k" d="M37,0V738"/>
<path class="k" d="M52,0V720"/>
<path d="M803,0V128H818V22M803,355H818V443H935M818,22H1145M818,460H935V535H950V22M935,22V443M818,460V720M803,355V720"/>
<path class="t" d="M880,22V443"/><path class="t dd" d="M884,30V440M872,465V718" style="stroke-dasharray:22 10"/>
<path d="M1145,22V480M1152,22V480M1160,22V480M955,478H1160"/>
<path class="grn dd" d="M955,68H1142M955,114H1142M1040,159H1142M1040,205H1142" style="stroke-dasharray:30 14"/>
<path class="t" d="M955,159H1030M955,205H1040M955,295H1145M955,340H1145M955,386H1145M955,432H1145M955,250H1145"/>
<path class="mag" style="stroke-width:1.6" d="M952,95L1043,165V150L1043,195L1060,195L1160,285"/>
<path class="grn dd" d="M952,260H2080" style="stroke-dasharray:34 18"/>
<path class="grn" d="M1053,225V490M1408,265V700"/>
<polygon class="gr" points="1040,285 1053,225 1053,285"/><polygon class="gr" points="1390,325 1408,265 1408,325"/>
<!-- entry double door -->
<path d="M720,195L803,128M712,182L725,198M720,290L803,355M716,283L725,298"/>
<path class="dd" d="M735,212L778,240M745,268L775,250" style="stroke-dasharray:6 4"/>
<path d="M780,235L805,243L785,250"/>
<!-- 2x10 arrow -->
<path d="M488,10V660"/><polygon points="488,10 484,38 492,38"/><polygon points="488,660 484,632 492,632"/>
<!-- bottom wall -->
<path d="M52,720H803M818,720H935V678H950V720H983V738M1155,710V738M1155,720H1500"/>
<path class="k" d="M37,738H983M1155,738H2105"/>
<path d="M983,720L1100,607M1090,603L1110,615"/><path class="dd" d="M1118,625Q1150,665 1155,710"/>
<path class="teal" d="M970,744H1165"/>
<path d="M312,745H655M312,738V745M655,738V745M330,728H640M330,738H640"/>
<rect class="n" x="310" y="722" width="18" height="18"/><rect class="n" x="638" y="722" width="18" height="18"/><rect class="n" x="48" y="722" width="20" height="18"/>
<path class="teal" d="M483,715V750M480,722H486M480,745H486"/>
<circle cx="1298" cy="628" r="36"/><path d="M1298,665V798"/>
<!-- porch -->
<path d="M60,738V990M72,745V990"/>
<path class="k" d="M37,738V1027H2105"/>
<path d="M52,738V1015"/>
<path d="M72,990H2065M72,998H890M1245,998H2065M72,1007H890M1245,1007H2065M72,1015H2065"/>
<path class="t dd" d="M925,1002H1210" style="stroke-dasharray:30 12"/>
<path d="M483,972V1055"/>
<!-- front stair -->
<path d="M893,1020V1195M900,1020V1195M908,1020V1195M915,1020V1195M1218,1020V1195M1226,1020V1195M1234,1020V1195M1240,1020V1195M915,1070H1218M915,1116H1218M915,1162H1218"/>
<path class="t" d="M915,1208H935M1195,1208H1218"/>
</g>

<!-- zoom 8 group : right parts -->
<g class="g" transform="translate(1200 950) scale(.39548 .33333)">
<path d="M888,0V270M888,555V870"/>
<path class="red" d="M880,265H813V555H880"/>
<path d="M880,268V555H888M918,268H1008V555H895M918,285H992V538H918"/>
<path d="M895,285V540M905,285V400M905,440V540M915,285V540"/>
<path class="red" style="stroke-width:1.8" d="M880,322L978,340V480L880,500V322"/>
<rect x="898" y="395" width="14" height="40" fill="#1a1c28" style="fill:#1a1c28;stroke:#e4e6ec"/>
<path d="M925,407H985"/><polygon points="925,407 950,403 950,411"/><polygon points="985,407 958,403 958,411"/>
<path d="M955,407L1030,328H1070"/>
<path d="M890,430L795,480H755"/><polygon points="890,430 868,438 872,446"/>
<path d="M918,76H1072L1225,287L1172,655H918M1225,287H1290"/>
<polygon points="918,76 938,72 938,80"/><polygon points="918,655 938,651 938,659"/>
<rect class="n" x="886" y="237" width="24" height="30"/><rect class="n" x="893" y="260" width="24" height="26"/><rect class="n" x="893" y="535" width="24" height="20"/>
<path d="M388,895H678M388,888V895M678,888V895M400,873H664M400,888H664"/>
<rect class="n" x="385" y="872" width="16" height="18"/><rect class="n" x="663" y="872" width="16" height="18"/><rect class="n" x="882" y="870" width="18" height="20"/>
<path class="teal" d="M532,865V900M529,872H535M529,895H535"/>
<path d="M880,888V1140M896,888V1140"/>
<path d="M533,1180L580,1402H640"/><polygon points="533,1180 530,1205 540,1203"/>
<path d="M168,1177V1340M176,1177V1340M185,1177V1340M0,1222H168M0,1268H168M0,1312H168"/>
<path class="t" d="M148,1358H166"/>
</g>

<!-- detail -->
<g class="g" transform="translate(1660 1100) scale(.35714 .33333)">
<path d="M222,345L480,72M335,338L580,72M222,345V400H278L300,378M298,335V592M333,338V592"/>
<rect x="298" y="337" width="37" height="41"/>
<path d="M298,358H335M298,337L335,358M335,337L298,358M298,358L335,378M335,358L298,378"/>
<rect x="283" y="300" width="20" height="35" style="fill:#9a9ca6;stroke:#9a9ca6"/>
<path d="M305,308H482"/><polygon points="305,308 335,303 335,313"/>
<path d="M430,215L500,180H520"/><polygon points="430,215 460,198 464,206"/>
<path d="M325,487L430,438H485"/><polygon points="325,487 350,472 354,480"/>
</g>

<!-- yellow posts -->
<g>
<rect class="y" x="874.5" y="484" width="11" height="11"/><rect class="y" x="1176.5" y="484" width="11" height="11"/><rect class="y" x="1243.5" y="484" width="11" height="11"/><rect class="y" x="1546.5" y="484" width="11" height="11"/>
<rect class="y" x="1177.5" y="417" width="9" height="11"/><rect class="y" x="1244.5" y="417" width="9" height="11"/>
<rect class="y" x="872.8" y="1327.5" width="13" height="13"/><rect class="y" x="1014.5" y="1327.5" width="13" height="13"/><rect class="y" x="1154.8" y="1327.5" width="13" height="13"/><rect class="y" x="1263.5" y="1327.5" width="13" height="13"/><rect class="y" x="1403.5" y="1327.5" width="13" height="13"/><rect class="y" x="1545.5" y="1327.5" width="13" height="13"/>
<rect class="y" x="1156" y="1397.5" width="10.5" height="10.5"/><rect class="y" x="1265" y="1397.5" width="10.5" height="10.5"/>
</g>

<!-- plan labels -->
<g>
<text x="1336" y="400.3" textLength="297" lengthAdjust="spacingAndGlyphs">4x4 TRT'D POST (OR EQUIV.) (TYP.) ATTACH RAFTERS</text>
<text x="1342" y="414.5" textLength="286" lengthAdjust="spacingAndGlyphs">AT PORCH WITH HURRICANE CONNECTORS (SIMPSON</text>
<text x="1351.7" y="429" textLength="266.3" lengthAdjust="spacingAndGlyphs">H2.5 OR EQUIV.) ATTACH HEADER TO POST AND</text>
<text x="1360.4" y="442.8" textLength="247.5" lengthAdjust="spacingAndGlyphs">POST TO BASE WITH A POST CAP OR METAL</text>
<text x="1346" y="456.6" textLength="278.7" lengthAdjust="spacingAndGlyphs">STRAP(S) OR BRACKET(S), AND/OR A POST BASE.</text>
<text x="1455" y="1421.5" textLength="297.3" lengthAdjust="spacingAndGlyphs">6x6 TRT'D POST (OR EQUIV.) (TYP.) ATTACH RAFTERS</text>
<text x="1461" y="1435.7" textLength="286.3" lengthAdjust="spacingAndGlyphs">AT PORCH WITH HURRICANE CONNECTORS (SIMPSON</text>
<text x="1470.7" y="1450" textLength="266.6" lengthAdjust="spacingAndGlyphs">H2.5 OR EQUIV.) ATTACH HEADER TO POST AND</text>
<text x="1480" y="1463.7" textLength="248" lengthAdjust="spacingAndGlyphs">POST TO BASE WITH A POST CAP OR METAL</text>
<text x="1465" y="1477.7" textLength="278" lengthAdjust="spacingAndGlyphs">STRAP(S) OR BRACKET(S), AND/OR A POST BASE.</text>
<text x="1074.7" y="523" textLength="46" lengthAdjust="spacingAndGlyphs">(2) 2X10</text>
<text x="1074.7" y="536" textLength="45" lengthAdjust="spacingAndGlyphs">HEADER</text>
<text x="1635" y="791" textLength="137" lengthAdjust="spacingAndGlyphs">FRAME RIGHT EXTERIOR</text>
<text x="1631" y="804.7" textLength="144" lengthAdjust="spacingAndGlyphs">WALL W/ 2x6 STUDS @ 16"</text>
<text x="1635" y="818" textLength="136" lengthAdjust="spacingAndGlyphs">O.C. @ DINING ROOM TO</text>
<text x="1633" y="831.5" textLength="141" lengthAdjust="spacingAndGlyphs">MATCH FAMILY BALLOON</text>
<text x="1641" y="845" textLength="125" lengthAdjust="spacingAndGlyphs">FRAME STUD FRAMING</text>
<text x="1349.7" y="897" textLength="47" lengthAdjust="spacingAndGlyphs">SIMPSON</text>
<text x="1346.5" y="910.7" textLength="54" lengthAdjust="spacingAndGlyphs">LUS 210-2</text>
<text x="1465" y="884" textLength="79" lengthAdjust="spacingAndGlyphs">ATTACH JOIST</text>
<text x="1471.5" y="897.3" textLength="68" lengthAdjust="spacingAndGlyphs">TO BEAM W/</text>
<text x="1479.5" y="910.7" textLength="51" lengthAdjust="spacingAndGlyphs">HANGERS</text>
<text x="1360" y="936.7" style="font-size:8.5px" textLength="35" lengthAdjust="spacingAndGlyphs">LOFT ABOVE</text>
<text x="1355" y="958" textLength="80" lengthAdjust="spacingAndGlyphs">(2) 1.75x14 LVL</text>
<text x="1362" y="969" textLength="66" lengthAdjust="spacingAndGlyphs">(TOP FLUSH)</text>
<text x="1164" y="936.7" textLength="44" lengthAdjust="spacingAndGlyphs">(2) 2x10</text>
<text x="1066" y="966" textLength="44" lengthAdjust="spacingAndGlyphs">(2) 2x10</text>
<text x="1266.5" y="985" textLength="47" lengthAdjust="spacingAndGlyphs">SIMPSON</text>
<text x="1263" y="998.3" textLength="54" lengthAdjust="spacingAndGlyphs">LUS 210-2</text>
<text x="993.3" y="1233" textLength="44.4" lengthAdjust="spacingAndGlyphs">(2) 2x10</text>
<text x="1385.8" y="1234" textLength="44.2" lengthAdjust="spacingAndGlyphs">(2) 2x10</text>
<text x="1191.7" y="1311" textLength="45" lengthAdjust="spacingAndGlyphs">(2) 2x10</text>
<text x="1191.7" y="1324" textLength="45" lengthAdjust="spacingAndGlyphs">HEADER</text>
<text x="1625" y="1064" textLength="41" lengthAdjust="spacingAndGlyphs">2x4 CJ</text>
<text x="1618" y="1078" textLength="54.5" lengthAdjust="spacingAndGlyphs">@ 16" O.C.</text>
<text x="1457" y="1115" textLength="39.6" lengthAdjust="spacingAndGlyphs">(3) 2x6</text>
<text x="1712" y="1051.7" textLength="95" lengthAdjust="spacingAndGlyphs">BALLOON FRAME</text>
<text x="1721" y="1065" textLength="79" lengthAdjust="spacingAndGlyphs">FAMILY ROOM</text>
<text x="1715" y="1079.3" textLength="91" lengthAdjust="spacingAndGlyphs">WALL W/ (2) 2x6</text>
<text x="1714" y="1093" textLength="93" lengthAdjust="spacingAndGlyphs">STUDS @ 16" O.C.</text>
<text x="1316.7" y="1079" style="font-size:8.5px" textLength="67" lengthAdjust="spacingAndGlyphs">FLAT 2 STORY CEILING</text>

<!-- rotated -->
<text class="r" transform="translate(1274.5 576.5) rotate(-90)" textLength="40" lengthAdjust="spacingAndGlyphs">2x6 CJ</text>
<text class="r" transform="translate(1288.5 576.5) rotate(-90)" textLength="54" lengthAdjust="spacingAndGlyphs">@ 16" O.C.</text>
<text class="r" transform="translate(1003.8 756) rotate(-90)" textLength="43" lengthAdjust="spacingAndGlyphs">2x10 CJ</text>
<text class="r" transform="translate(1017.8 756) rotate(-90)" textLength="55" lengthAdjust="spacingAndGlyphs">@ 16" O.C.</text>
<text class="r" transform="translate(967.2 917) rotate(-90)" textLength="43" lengthAdjust="spacingAndGlyphs">2x10 CJ</text>
<text class="r" transform="translate(981.2 917) rotate(-90)" textLength="55" lengthAdjust="spacingAndGlyphs">@ 16" O.C.</text>
<text class="r" transform="translate(1219.5 805) rotate(-90)" textLength="43" lengthAdjust="spacingAndGlyphs">2x10 CJ</text>
<text class="r" transform="translate(1233.8 805) rotate(-90)" textLength="55" lengthAdjust="spacingAndGlyphs">@ 16" O.C.</text>
<text class="r" transform="translate(1432.8 809) rotate(-90)" textLength="43" lengthAdjust="spacingAndGlyphs">2x10 CJ</text>
<text class="r" transform="translate(1446.2 809) rotate(-90)" textLength="55" lengthAdjust="spacingAndGlyphs">@ 16" O.C.</text>
<text class="r" transform="translate(1021.2 1111) rotate(-90)" textLength="43" lengthAdjust="spacingAndGlyphs">2x10 CJ</text>
<text class="r" transform="translate(1035.5 1111) rotate(-90)" textLength="55" lengthAdjust="spacingAndGlyphs">@ 16" O.C.</text>
<text class="r" transform="translate(1110.5 1288) rotate(-90)" textLength="40" lengthAdjust="spacingAndGlyphs">2x6 CJ</text>
<text class="r" transform="translate(1124.5 1288) rotate(-90)" textLength="55" lengthAdjust="spacingAndGlyphs">@ 16" O.C.</text>
<text class="r" transform="translate(1575 812.7) rotate(-90)" textLength="38" lengthAdjust="spacingAndGlyphs">(3) 2x6</text>
<text class="r" transform="translate(1151.5 780.7) rotate(-90)" style="font-style:normal;font-size:12px">DJ</text>
<text class="r" transform="translate(1297.5 805.7) rotate(-90)" style="font-style:normal;font-size:12px">DJ</text>
<text class="r" transform="translate(1209.5 1120.5) rotate(-90)" style="font-style:normal;font-size:8.5px" textLength="24" lengthAdjust="spacingAndGlyphs">UP 15R</text>
<text class="r" transform="translate(1328 1151) rotate(-90)" style="font-style:normal;font-size:9px" textLength="62" lengthAdjust="spacingAndGlyphs">vaulted plank ceiling</text>

<!-- digits -->
<text class="d" x="1136.7" y="669">2</text><text class="d" x="1302.7" y="668">2</text><text class="d" x="884" y="690">2</text><text class="d" x="1541.7" y="692">2</text>
<text class="d" x="1547.3" y="960">3</text><text class="d" x="1567.7" y="1029">5</text><text class="d" x="1567" y="1056">2</text><text class="d" x="1565.8" y="1146.7">2</text>
<text class="d" x="886.7" y="1238">2</text><text class="d" x="966" y="1238">2</text><text class="d" x="1076.7" y="1238">2</text>
<text class="d" x="1355.4" y="1237">2</text><text class="d" x="1465" y="1236">2</text><text class="d" x="1544" y="1236">2</text>
<text class="d" x="1164.3" y="1020">2</text><text class="d" x="1162.7" y="1039">4</text>
<text class="d" x="1119.3" y="982.7">2</text><text class="d" x="1126" y="939.7">3</text><text class="d" x="1239" y="938">2</text><text class="d" x="1248.3" y="938">3</text>
<text x="1293" y="1215" style="font-size:15px;text-anchor:middle">A</text>

<!-- detail labels -->
<text x="1847.5" y="1163.3" textLength="59.5" lengthAdjust="spacingAndGlyphs" class="s">RAFTERS</text>
<text x="1835" y="1206.7" textLength="70.7" lengthAdjust="spacingAndGlyphs" class="s">HURRICANE</text>
<text x="1835" y="1217.7" textLength="85.7" lengthAdjust="spacingAndGlyphs" class="s">CONNECTORS</text>
<text x="1835" y="1227.3" textLength="56" lengthAdjust="spacingAndGlyphs" class="s">@ 16" OC</text>
<text x="1835" y="1251" textLength="71" lengthAdjust="spacingAndGlyphs" class="s">STUD WALL</text>
<text x="1693" y="1325" style="font-size:16px;text-anchor:middle">A</text>
<text class="big" x="1711.8" y="1326" style="font-size:22px" textLength="274" lengthAdjust="spacingAndGlyphs">RAFTER TIE @ VAULT</text>
<text x="1953.6" y="1341" style="font-size:11px" textLength="26.8" lengthAdjust="spacingAndGlyphs">NTS.</text>
<text x="1980.7" y="1472.3" style="font-size:12px" textLength="178.3" lengthAdjust="spacingAndGlyphs">REFER TO "SD"  SHEET(S) FOR</text>
<text x="1980.7" y="1484.3" style="font-size:12px" textLength="179.3" lengthAdjust="spacingAndGlyphs">STANDARD DETAILS, BRACING</text>
<text x="1972.5" y="1496.7" style="font-size:12px" textLength="201.8" lengthAdjust="spacingAndGlyphs">DETAILS AND STRUCTURAL NOTES.</text>
<text class="big" x="1791.4" y="1562.3" style="font-size:24px" textLength="390" lengthAdjust="spacingAndGlyphs">FIRST FLOOR STRUCTURAL PLAN</text>
<text class="big" x="2048.6" y="1586.7" style="font-size:18px" textLength="133" lengthAdjust="spacingAndGlyphs">SCALE: 1" = 1'-0"</text>
</g>
</svg>
</body></html>
